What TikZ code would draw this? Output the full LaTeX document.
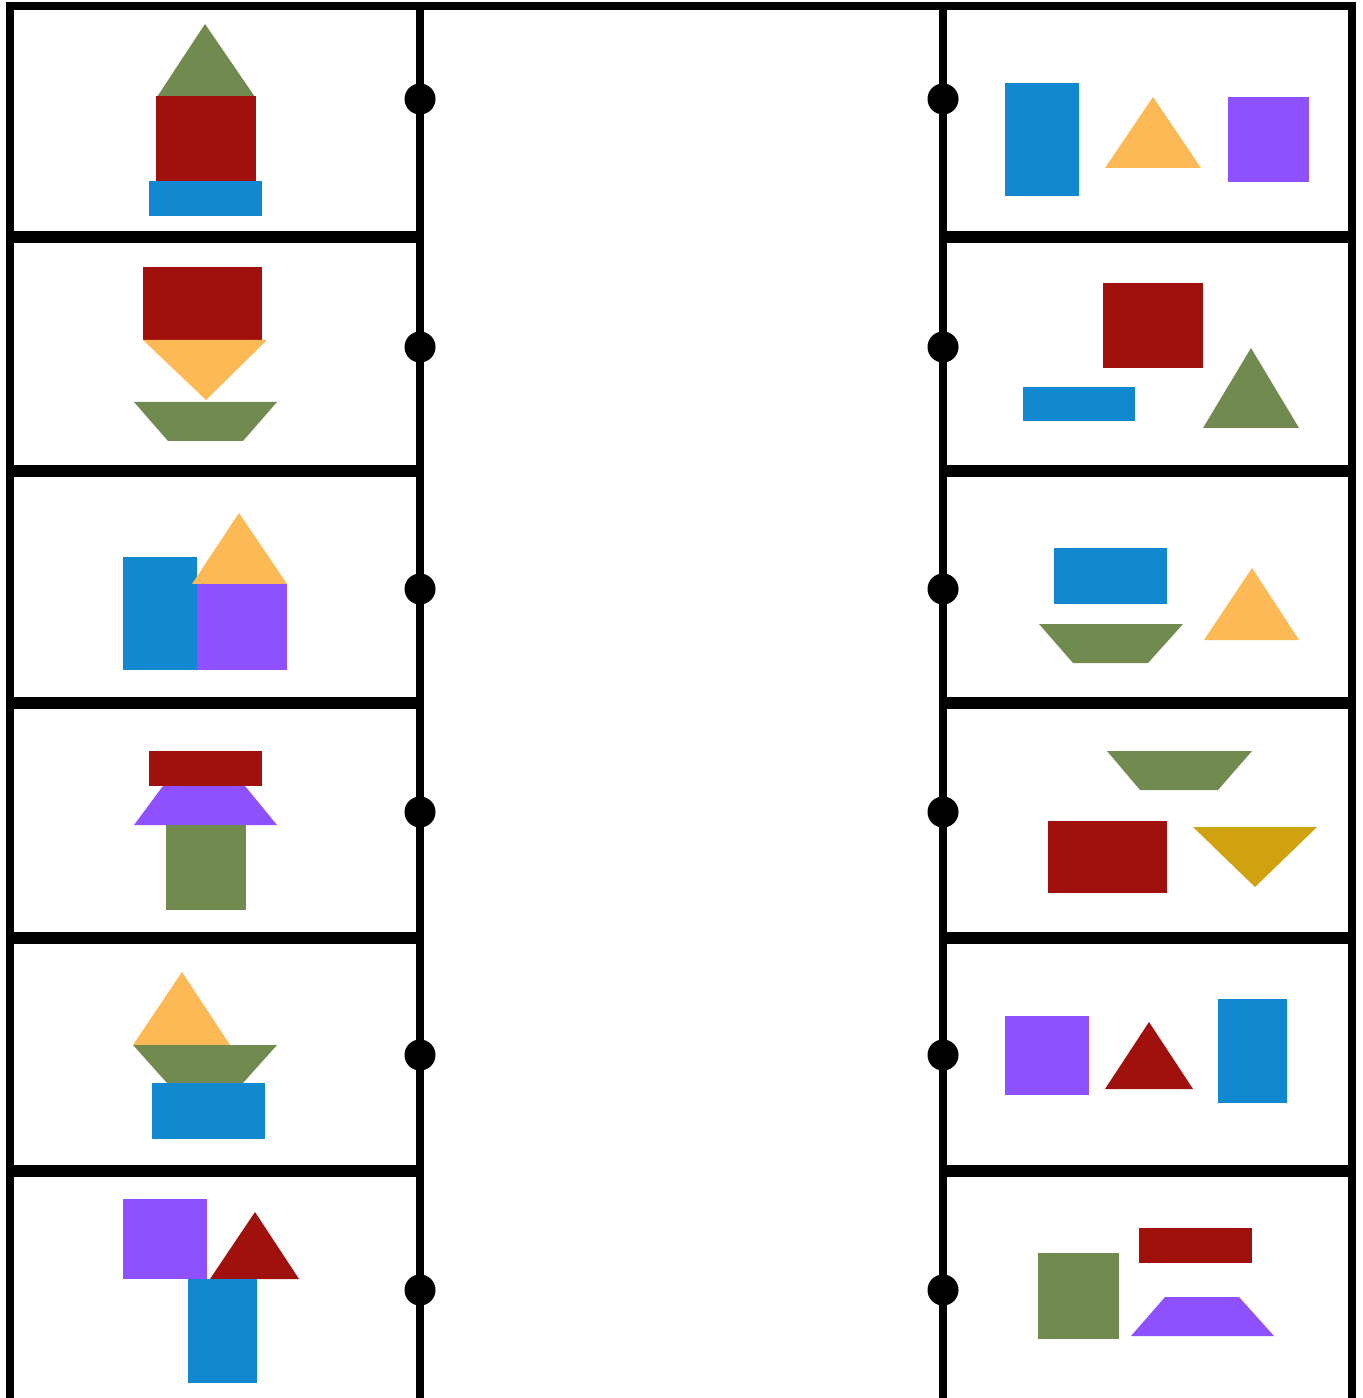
\documentclass[tikz,border=0pt]{standalone}
\usepackage{xcolor}
\definecolor{shapegreen}{RGB}{112,138,80}
\definecolor{shapered}{RGB}{160,16,12}
\definecolor{shapeblue}{RGB}{17,136,208}
\definecolor{shapeorange}{RGB}{253,185,85}
\definecolor{shapepurple}{RGB}{143,80,255}
\definecolor{shapegold}{RGB}{208,162,16}
\tikzset{
  frameline/.style={draw=black,line width=.08cm},
  shelfline/.style={draw=black,line width=.12cm},
  matchdot/.style={circle,fill=black,inner sep=0pt,minimum size=.31cm}
}
\begin{document}
\begin{tikzpicture}[x=.01cm,y=-.01cm,font=\small]
\useasboundingbox (0,0) rectangle (1362,1398);
% left column: stacked figures
\path[fill=shapegreen] (157,97) -- (205,24) -- (255,97) -- cycle;
\path[fill=shapered] (156,96) rectangle (256,181);
\path[fill=shapeblue] (149,181) rectangle (262,216);
\path[fill=shapered] (143,267) rectangle (262,340);
\path[fill=shapeorange] (143,340) -- (267,340) -- (206,400) -- cycle;
\path[fill=shapegreen] (134,402) -- (277,402) -- (243,441) -- (168,441) -- cycle;
\path[fill=shapeblue] (123,557) rectangle (197,670);
\path[fill=shapepurple] (197,584) rectangle (287,670);
\path[fill=shapeorange] (192,584) -- (239,513) -- (287,584) -- cycle;
\path[fill=shapered] (149,751) rectangle (262,786);
\path[fill=shapepurple] (163,786) -- (245,786) -- (277,825) -- (134,825) -- cycle;
\path[fill=shapegreen] (166,825) rectangle (246,910);
\path[fill=shapeorange] (133,1045) -- (182,972) -- (230,1045) -- cycle;
\path[fill=shapegreen] (133,1045) -- (277,1045) -- (243,1083) -- (167,1083) -- cycle;
\path[fill=shapeblue] (152,1083) rectangle (265,1139);
\path[fill=shapepurple] (123,1199) rectangle (207,1279);
\path[fill=shapered] (210,1279) -- (255,1212) -- (299,1279) -- cycle;
\path[fill=shapeblue] (188,1279) rectangle (257,1383);
% right column: loose pieces
\path[fill=shapeblue] (1005,83) rectangle (1079,196);
\path[fill=shapeorange] (1105,168) -- (1153,97) -- (1201,168) -- cycle;
\path[fill=shapepurple] (1228,97) rectangle (1309,182);
\path[fill=shapered] (1103,283) rectangle (1203,368);
\path[fill=shapeblue] (1023,387) rectangle (1135,421);
\path[fill=shapegreen] (1203,428) -- (1251,348) -- (1299,428) -- cycle;
\path[fill=shapeblue] (1054,548) rectangle (1167,604);
\path[fill=shapegreen] (1039,624) -- (1183,624) -- (1148,663) -- (1073,663) -- cycle;
\path[fill=shapeorange] (1204,640) -- (1252,568) -- (1299,640) -- cycle;
\path[fill=shapegreen] (1107,751) -- (1252,751) -- (1218,790) -- (1140,790) -- cycle;
\path[fill=shapered] (1048,821) rectangle (1167,893);
\path[fill=shapegold] (1193,827) -- (1317,827) -- (1255,887) -- cycle;
\path[fill=shapepurple] (1005,1016) rectangle (1089,1095);
\path[fill=shapered] (1105,1089) -- (1149,1022) -- (1193,1089) -- cycle;
\path[fill=shapeblue] (1218,999) rectangle (1287,1103);
\path[fill=shapegreen] (1038,1253) rectangle (1119,1339);
\path[fill=shapered] (1139,1228) rectangle (1252,1263);
\path[fill=shapepurple] (1165,1297) -- (1239,1297) -- (1274,1336) -- (1131,1336) -- cycle;
% frame
\path[frameline] (10,1398) -- (10,6) -- (1352,6) -- (1352,1398);
\path[frameline] (420,6) -- (420,1398);
\path[frameline] (943,6) -- (943,1398);
\path[shelfline] (10,237) -- (420,237);
\path[shelfline] (10,471) -- (420,471);
\path[shelfline] (10,703) -- (420,703);
\path[shelfline] (10,938) -- (420,938);
\path[shelfline] (10,1171) -- (420,1171);
\path[shelfline] (943,237) -- (1352,237);
\path[shelfline] (943,471) -- (1352,471);
\path[shelfline] (943,703) -- (1352,703);
\path[shelfline] (943,938) -- (1352,938);
\path[shelfline] (943,1171) -- (1352,1171);
% dots
\node[matchdot] (left1) at (420,99) {};
\node[matchdot] (left2) at (420,347) {};
\node[matchdot] (left3) at (420,589) {};
\node[matchdot] (left4) at (420,812) {};
\node[matchdot] (left5) at (420,1055) {};
\node[matchdot] (left6) at (420,1290) {};
\node[matchdot] (right1) at (943,99) {};
\node[matchdot] (right2) at (943,347) {};
\node[matchdot] (right3) at (943,589) {};
\node[matchdot] (right4) at (943,812) {};
\node[matchdot] (right5) at (943,1055) {};
\node[matchdot] (right6) at (943,1290) {};
\end{tikzpicture}
\end{document}
